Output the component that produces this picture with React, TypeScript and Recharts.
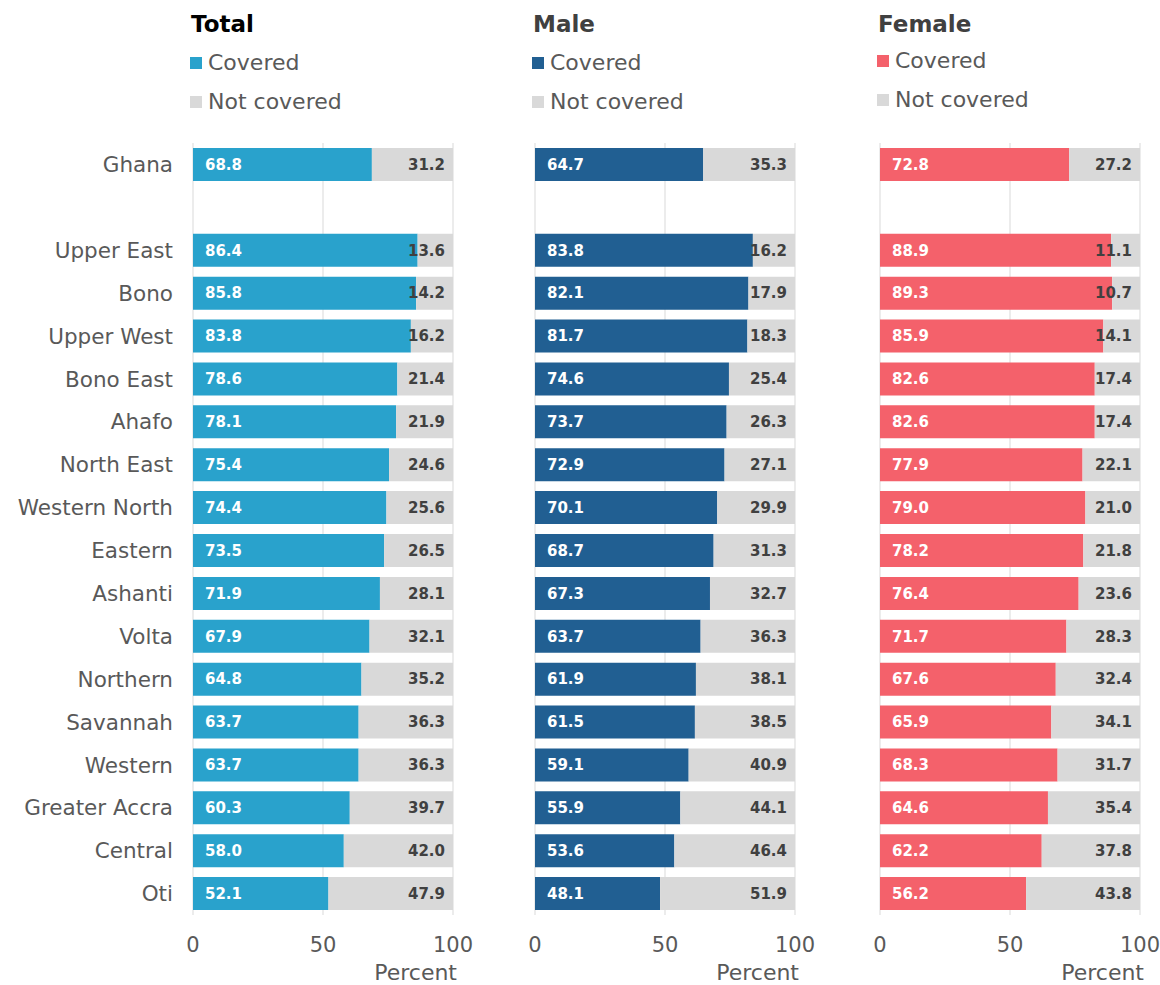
import React from "react";
import { Bar, BarChart, CartesianGrid, LabelList, XAxis, YAxis } from "recharts";

const regions = [
  "Ghana", "", "Upper East", "Bono", "Upper West", "Bono East", "Ahafo", "North East",
  "Western North", "Eastern", "Ashanti", "Volta", "Northern", "Savannah", "Western",
  "Greater Accra", "Central", "Oti",
];

// null = spacer row between Ghana and the regions
const totalCovered = [68.8, null, 86.4, 85.8, 83.8, 78.6, 78.1, 75.4, 74.4, 73.5, 71.9, 67.9, 64.8, 63.7, 63.7, 60.3, 58.0, 52.1];
const totalNotCovered = [31.2, null, 13.6, 14.2, 16.2, 21.4, 21.9, 24.6, 25.6, 26.5, 28.1, 32.1, 35.2, 36.3, 36.3, 39.7, 42.0, 47.9];
const maleCovered = [64.7, null, 83.8, 82.1, 81.7, 74.6, 73.7, 72.9, 70.1, 68.7, 67.3, 63.7, 61.9, 61.5, 59.1, 55.9, 53.6, 48.1];
const maleNotCovered = [35.3, null, 16.2, 17.9, 18.3, 25.4, 26.3, 27.1, 29.9, 31.3, 32.7, 36.3, 38.1, 38.5, 40.9, 44.1, 46.4, 51.9];
const femaleCovered = [72.8, null, 88.9, 89.3, 85.9, 82.6, 82.6, 77.9, 79.0, 78.2, 76.4, 71.7, 67.6, 65.9, 68.3, 64.6, 62.2, 56.2];
const femaleNotCovered = [27.2, null, 11.1, 10.7, 14.1, 17.4, 17.4, 22.1, 21.0, 21.8, 23.6, 28.3, 32.4, 34.1, 31.7, 35.4, 37.8, 43.8];

const xTicks = [0, 50, 100];

const FONT = "'DejaVu Sans', sans-serif";
const GREY = "#D9D9D9";
const TEXT = "#595959";

const fmt = (v: any) => (v == null ? "" : Number(v).toFixed(1));

const buildRows = (covered: (number | null)[], notCovered: (number | null)[]) =>
  regions.map((name, i) => ({ name, covered: covered[i], notCovered: notCovered[i] }));

const PercentLabel = (props: any) => {
  const vb = props.viewBox;
  return (
    <text x={vb.x + vb.width + 4} y={vb.y + 65} textAnchor="end" fill={TEXT} fontSize={22} fontFamily={FONT}>
      Percent
    </text>
  );
};

function Panel({ title, titleColor, color, covered, notCovered, left, showNames, legendShift = 0 }: any) {
  const yWidth = showNames ? 193 : 0;
  const leftPad = showNames ? 0 : 25;
  const width = leftPad + yWidth + 260 + 25;
  const chartLeft = left - yWidth - leftPad;
  const data = buildRows(covered, notCovered);
  return (
    <>
      <div style={{ position: "absolute", left: left - 2, top: 11, fontFamily: FONT, fontWeight: "bold", fontSize: 23, color: titleColor }}>
        {title}
      </div>
      {[["Covered", color, 50 + legendShift], ["Not covered", GREY, 89 + legendShift]].map(([label, c, top]: any) => (
        <div key={label} style={{ position: "absolute", left: left - 3, top, display: "flex", alignItems: "center", fontFamily: FONT, fontSize: 22, color: TEXT }}>
          <span style={{ display: "inline-block", width: 12, height: 12, background: c, marginRight: 6 }} />
          {label}
        </div>
      ))}
      <div style={{ position: "absolute", left: chartLeft, top: 0 }}>
        <BarChart
          width={width}
          height={985}
          data={data}
          layout="vertical"
          margin={{ top: 143, right: 25, bottom: 0, left: leftPad }}
          barCategoryGap={5}
        >
          <CartesianGrid horizontal={false} stroke={GREY} />
          <XAxis
            type="number"
            domain={[0, 100]}
            ticks={xTicks}
            interval={0}
            axisLine={false}
            tickLine={false}
            height={70}
            tick={{ fill: TEXT, fontSize: 21, fontFamily: FONT }}
            tickMargin={16}
            label={<PercentLabel />}
          />
          <YAxis
            type="category"
            dataKey="name"
            width={yWidth}
            hide={!showNames}
            axisLine={false}
            tickLine={false}
            interval={0}
            tickMargin={14}
            tick={{ fill: TEXT, fontSize: 21.5, fontFamily: FONT }}
          />
          <Bar dataKey="covered" stackId="a" fill={color} isAnimationActive={false}>
            <LabelList dataKey="covered" position="insideLeft" offset={12} formatter={fmt} fill="#FFFFFF" fontWeight="bold" fontSize={15} fontFamily={FONT} />
          </Bar>
          <Bar dataKey="notCovered" stackId="a" fill={GREY} isAnimationActive={false}>
            <LabelList dataKey="notCovered" position="insideRight" offset={8} formatter={fmt} fill="#404040" fontWeight="bold" fontSize={15} fontFamily={FONT} />
          </Bar>
        </BarChart>
      </div>
    </>
  );
}

export default function App() {
  return (
    <div style={{ position: "absolute", left: 0, top: 0, width: 1160, height: 985, background: "#fff" }}>
      <Panel title="Total" titleColor="#000000" color="#29A2CC" covered={totalCovered} notCovered={totalNotCovered} left={193} showNames />
      <Panel title="Male" titleColor="#404040" color="#215F92" covered={maleCovered} notCovered={maleNotCovered} left={535} />
      <Panel title="Female" titleColor="#404040" color="#F4616B" covered={femaleCovered} notCovered={femaleNotCovered} left={880} legendShift={-2} />
    </div>
  );
}
